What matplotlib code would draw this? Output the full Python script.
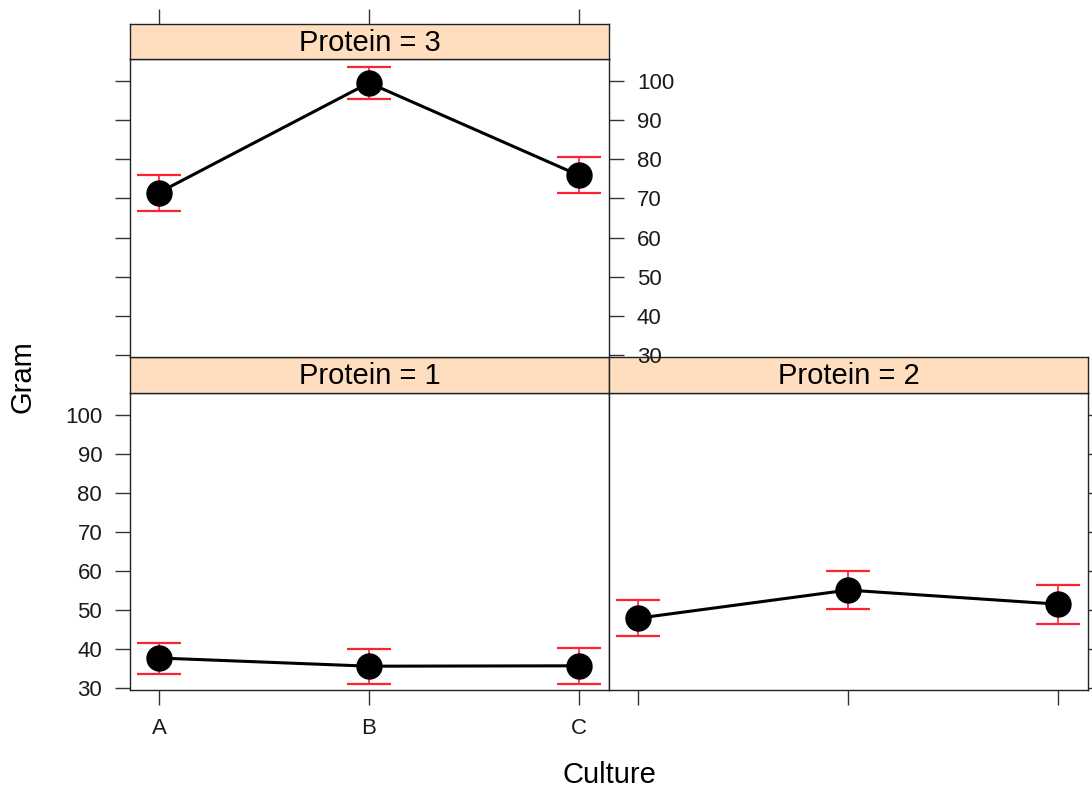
import matplotlib
matplotlib.use("Agg")
import matplotlib.pyplot as plt

plt.rcParams['font.family'] = ['Liberation Sans', 'DejaVu Sans']

# data (mean with lower / upper limits)
cultures = ["A", "B", "C"]
protein1_mean = [37.7, 35.6, 35.7]
protein1_lower = [33.6, 31.0, 31.0]
protein1_upper = [41.5, 40.0, 40.3]
protein2_mean = [47.9, 55.1, 51.5]
protein2_lower = [43.3, 50.3, 46.4]
protein2_upper = [52.6, 60.0, 56.4]
protein3_mean = [71.5, 99.5, 75.9]
protein3_lower = [66.7, 95.4, 71.5]
protein3_upper = [75.9, 103.6, 80.5]
y_ticks = [30, 40, 50, 60, 70, 80, 90, 100]

W, H = 1092, 792
fig = plt.figure(figsize=(W / 100, H / 100), dpi=100)

def box(left, top, right, bottom):
    return [left / W, 1 - bottom / H, (right - left) / W, (bottom - top) / H]

strip_color = '#FFDDBF'
x = [1, 2, 3]
xlim = (0.862, 3.143)

def panel(rect, strip_rect, title, mean, lower, upper):
    ax = fig.add_axes(rect)
    yerr = [[m - l for m, l in zip(mean, lower)], [u - m for m, u in zip(mean, upper)]]
    ax.errorbar(x, mean, yerr=yerr, fmt='none', ecolor='#FF2233', elinewidth=1.2,
                capsize=16, capthick=1.6, zorder=2)
    ax.plot(x, mean, color='black', lw=2.2, marker='o', markersize=18, zorder=3)
    ax.set_xlim(*xlim)
    ax.set_ylim(29.5, 105.6)
    ax.set_xticks(x)
    ax.set_yticks(y_ticks)
    ax.tick_params(direction='out', length=11, width=1, labelsize=16, colors='#333333',
                   labelcolor='#1a1a1a', pad=9,
                   bottom=False, left=False, top=False, right=False,
                   labelbottom=False, labelleft=False, labeltop=False, labelright=False)
    for s in ax.spines.values():
        s.set_linewidth(1)
        s.set_color('#222222')
    sax = fig.add_axes(strip_rect)
    sax.set_facecolor(strip_color)
    sax.set_xlim(*xlim)
    sax.set_xticks([])
    sax.set_yticks([])
    for s in sax.spines.values():
        s.set_linewidth(1)
        s.set_color('#222222')
    sax.text(0.5, 0.46, title, ha='center', va='center', fontsize=21, transform=sax.transAxes)
    return ax, sax

ax1, s1 = panel(box(130, 393, 609, 690), box(130, 357, 609, 393), "Protein = 1",
                protein1_mean, protein1_lower, protein1_upper)
ax2, s2 = panel(box(609, 393, 1088, 690), box(609, 357, 1088, 393), "Protein = 2",
                protein2_mean, protein2_lower, protein2_upper)
ax3, s3 = panel(box(130, 59, 609, 357), box(130, 24, 609, 59), "Protein = 3",
                protein3_mean, protein3_lower, protein3_upper)

ax1.set_xticklabels(cultures)
ax1.tick_params(bottom=True, labelbottom=True, left=True, labelleft=True)
ax2.tick_params(bottom=True, right=True)
ax3.tick_params(left=True, right=True, labelright=True)
# top ticks of the upper panel sit above its strip
s3.set_xticks(x)
s3.tick_params(axis='x', top=True, bottom=False, labelbottom=False, direction='out',
               length=11, width=1, colors='#333333')

fig.text(609 / W, 1 - 775 / H, "Culture", ha='center', va='center', fontsize=21)
fig.text(23 / W, 1 - 377 / H, "Gram", ha='center', va='center', fontsize=21, rotation=90)

fig.savefig("out.png", dpi=100)
